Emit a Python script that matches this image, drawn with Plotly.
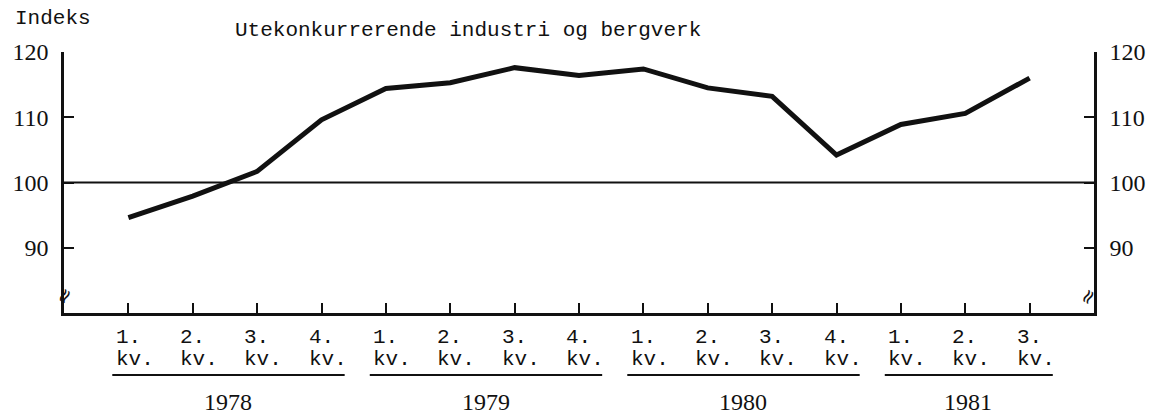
import plotly.graph_objects as go

# ---- data ----
quarters = ["1.", "2.", "3.", "4.", "1.", "2.", "3.", "4.", "1.", "2.", "3.", "4.", "1.", "2.", "3."]
years = ["1978", "1979", "1980", "1981"]
year_groups = [(0, 3), (4, 7), (8, 11), (12, 14)]
index_values = [94.6, 97.9, 101.7, 109.6, 114.4, 115.3, 117.6, 116.4, 117.4,
                114.5, 113.2, 104.2, 108.9, 110.6, 116.0]
y_ticks = [90, 100, 110, 120]
title_text = "Utekonkurrerende industri og bergverk"
y_title = "Indeks"
sub_label = "kv."

x = list(range(len(index_values)))

MONO = "Liberation Mono, Courier New, monospace"
SERIF = "Liberation Serif, Times New Roman, serif"
INK = "#111111"

fig = go.Figure()
fig.add_trace(go.Scatter(x=x, y=index_values, mode="lines",
                         line=dict(color=INK, width=5), hoverinfo="skip",
                         showlegend=False))
# invisible companion so the right axis is drawn
fig.add_trace(go.Scatter(x=x, y=index_values, mode="lines", yaxis="y2",
                         line=dict(color="rgba(0,0,0,0)", width=0),
                         hoverinfo="skip", showlegend=False))

# reference line at 100
fig.add_shape(type="line", xref="paper", x0=0, x1=1, yref="y", y0=100, y1=100,
              line=dict(color=INK, width=2))

annotations = []
# quarter labels
for i, q in enumerate(quarters):
    annotations.append(dict(x=i - 0.23, y=-0.092, xref="x", yref="paper", text=q,
                            showarrow=False, xanchor="left", yanchor="middle",
                            font=dict(family=MONO, size=21, color=INK)))
    annotations.append(dict(x=i - 0.23, y=-0.180, xref="x", yref="paper", text=sub_label,
                            showarrow=False, xanchor="left", yanchor="middle",
                            font=dict(family=MONO, size=21, color=INK)))
# year groups: underline + label
for yr, (a, b) in zip(years, year_groups):
    fig.add_shape(type="line", xref="x", x0=a - 0.25, x1=b + 0.36,
                  yref="paper", y0=-0.2375, y1=-0.2375,
                  line=dict(color=INK, width=2))
    annotations.append(dict(x=(a + b) / 2 + 0.05, y=-0.341, xref="x", yref="paper", text=yr,
                            showarrow=False, xanchor="center", yanchor="middle",
                            font=dict(family=SERIF, size=24, color=INK)))

annotations.append(dict(x=0.392, y=1.084, xref="paper", yref="paper", text=title_text,
                        showarrow=False, xanchor="center", yanchor="middle",
                        font=dict(family=MONO, size=21, color=INK)))
annotations.append(dict(x=-0.050, y=1.130, xref="paper", yref="paper", text=y_title,
                        showarrow=False, xanchor="left", yanchor="middle",
                        font=dict(family=MONO, size=21, color=INK)))
# axis break marks
for px in (0.0, 0.994):
    annotations.append(dict(x=px, y=82.6, xref="paper", yref="y", text="≈",
                            showarrow=False, xanchor="center", yanchor="middle",
                            textangle=-60,
                            font=dict(family="DejaVu Sans", size=20, color=INK)))

axis_common = dict(range=[80, 120], tickvals=y_ticks, ticks="inside", ticklen=10,
                   tickwidth=2, tickcolor=INK, showline=True, linewidth=2.5,
                   linecolor=INK, showgrid=False, zeroline=False,
                   tickfont=dict(family=SERIF, size=24, color=INK),
                   ticklabelstandoff=8, fixedrange=True)

fig.update_layout(
    width=1158, height=418,
    margin=dict(l=58, r=61, t=52, b=105),
    paper_bgcolor="white", plot_bgcolor="white",
    showlegend=False,
    xaxis=dict(range=[-1, 15], tickvals=x, showticklabels=False, ticks="inside",
               ticklen=10, tickwidth=2, tickcolor=INK, showline=True, linewidth=2.5,
               linecolor=INK, showgrid=False, zeroline=False, fixedrange=True),
    yaxis=dict(side="left", **axis_common),
    yaxis2=dict(side="right", overlaying="y", **axis_common),
    annotations=annotations,
)

fig.write_html("out.html", config={"displayModeBar": False},
               post_script="document.body.style.margin='0';document.body.style.padding='0';")
